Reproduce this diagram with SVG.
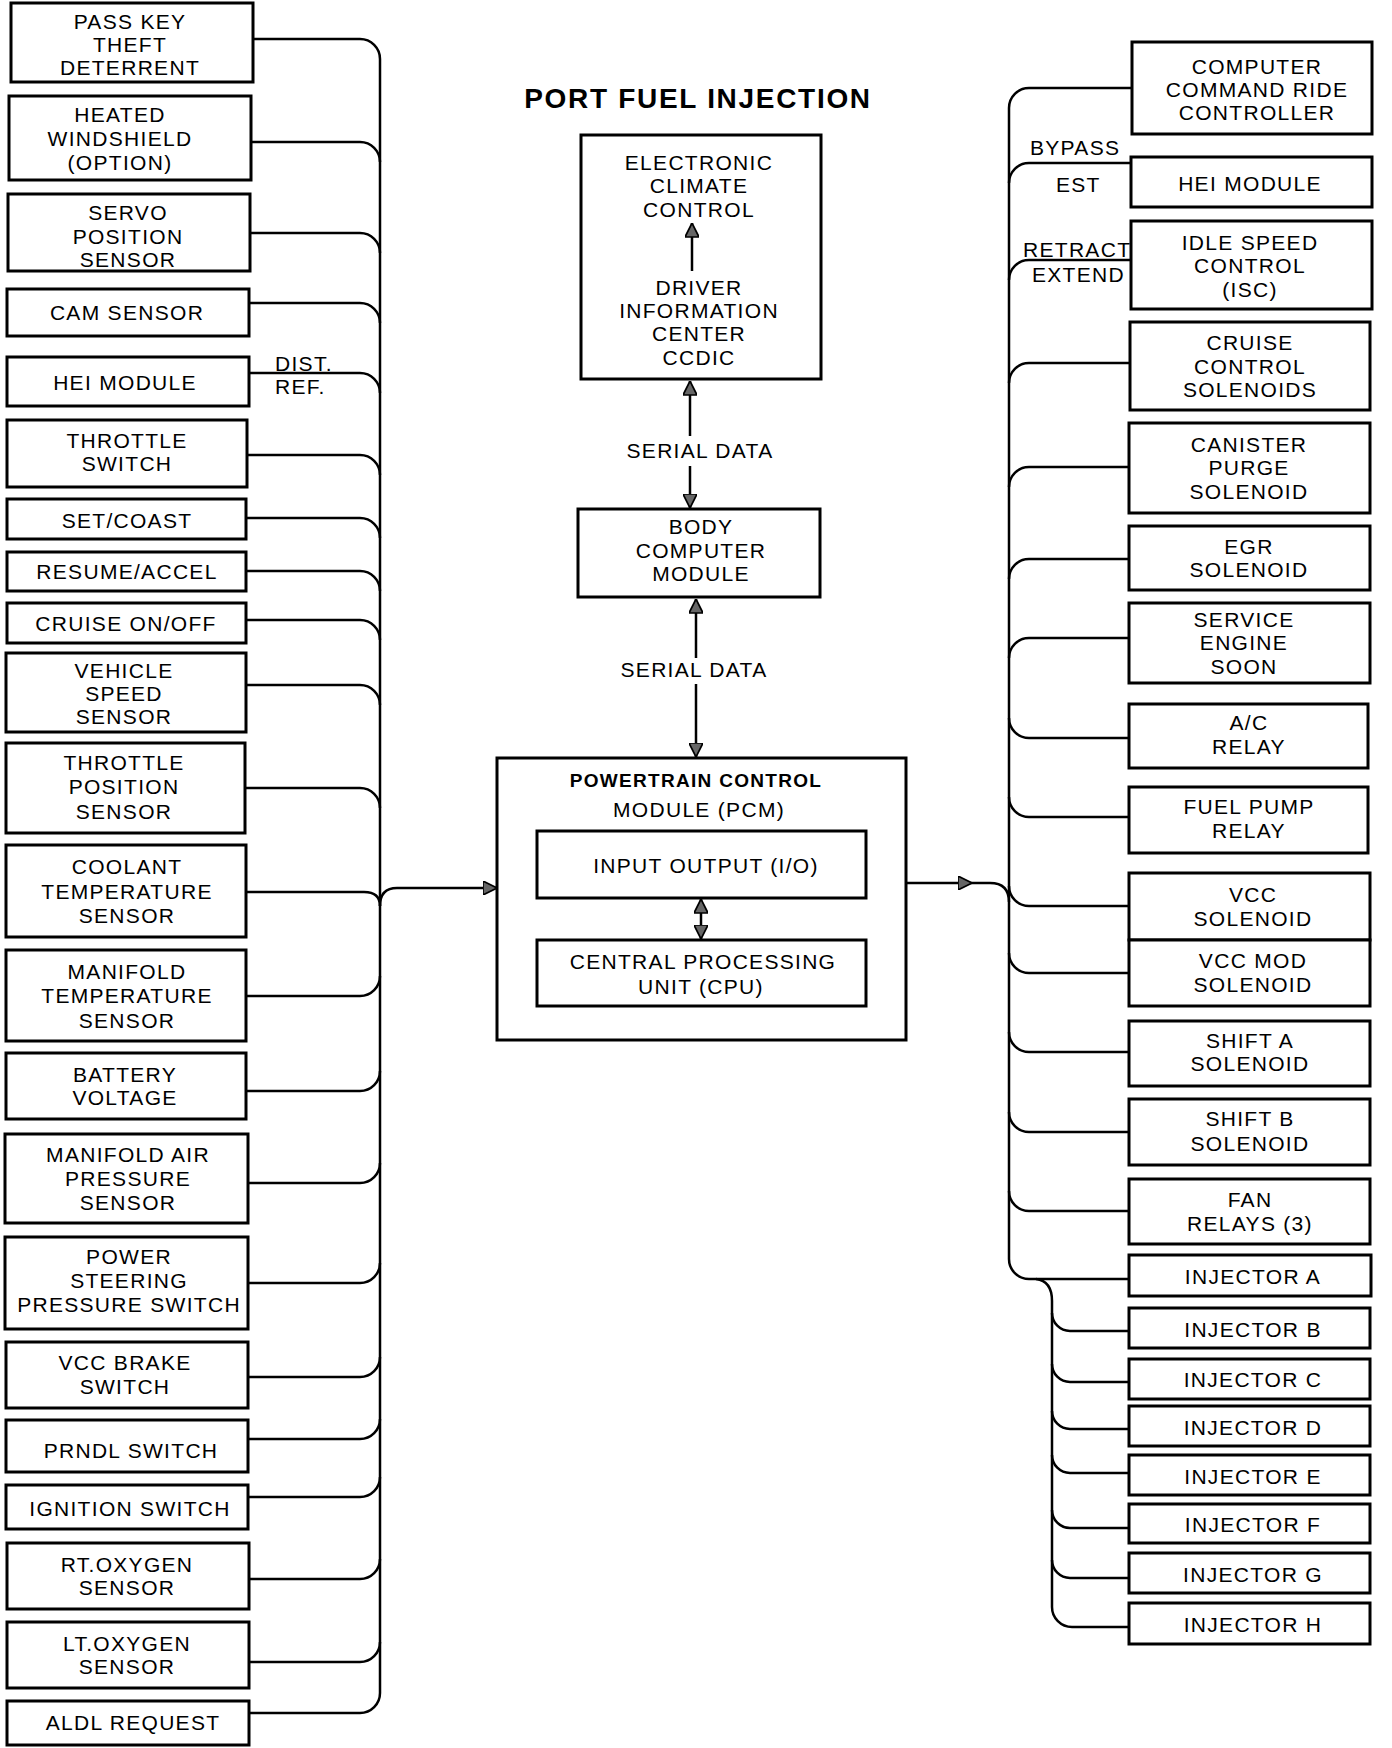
<svg xmlns="http://www.w3.org/2000/svg" width="1392" height="1748" viewBox="0 0 1392 1748">
<style>
.bg{fill:#fff}
.box{fill:#fff;stroke:#000;stroke-width:3}
.t{font-family:"Liberation Sans",Arial,Helvetica,sans-serif;font-size:21px;letter-spacing:1.3px;text-anchor:middle;fill:#000}
.lb{font-family:"Liberation Sans",Arial,Helvetica,sans-serif;font-size:21px;letter-spacing:1.3px;fill:#000}
.ttl{font-family:"Liberation Sans",Arial,Helvetica,sans-serif;font-size:28px;font-weight:bold;letter-spacing:1.7px;text-anchor:middle;fill:#000}
.bt{font-family:"Liberation Sans",Arial,Helvetica,sans-serif;font-size:19px;font-weight:bold;letter-spacing:1.3px;text-anchor:middle;fill:#000}
.w{fill:none;stroke:#000;stroke-width:2.5}
</style>
<defs>
<marker id="ah" viewBox="0 0 10 10" refX="10" refY="5" markerUnits="userSpaceOnUse" markerWidth="15" markerHeight="14" orient="auto-start-reverse">
<path d="M0,0 L10,5 L0,10 Z" fill="#666" stroke="#000" stroke-width="1.2"/>
</marker>
</defs>
<rect class="bg" x="0" y="0" width="1392" height="1748"/>

<g id="title"><text class="ttl" x="698" y="108">PORT FUEL INJECTION</text></g>

<!-- left nodes -->
<g id="passkey"><rect class="box" x="11" y="3" width="242" height="79"/><text class="t"><tspan x="130" y="29">PASS KEY</tspan><tspan x="130" y="52">THEFT</tspan><tspan x="130" y="75">DETERRENT</tspan></text></g>
<g id="heated"><rect class="box" x="9" y="96" width="242" height="84"/><text class="t"><tspan x="120" y="122">HEATED</tspan><tspan x="120" y="146">WINDSHIELD</tspan><tspan x="120" y="170">(OPTION)</tspan></text></g>
<g id="servo"><rect class="box" x="8" y="194" width="242" height="77"/><text class="t"><tspan x="128" y="220">SERVO</tspan><tspan x="128" y="244">POSITION</tspan><tspan x="128" y="267">SENSOR</tspan></text></g>
<g id="cam"><rect class="box" x="7" y="289" width="242" height="47"/><text class="t" x="127" y="320">CAM SENSOR</text></g>
<g id="hei-left"><rect class="box" x="7" y="357" width="242" height="49"/><text class="t" x="125" y="390">HEI MODULE</text></g>
<g id="throttle-switch"><rect class="box" x="7" y="420" width="240" height="67"/><text class="t"><tspan x="127" y="448">THROTTLE</tspan><tspan x="127" y="471">SWITCH</tspan></text></g>
<g id="set-coast"><rect class="box" x="7" y="499" width="239" height="40"/><text class="t" x="127" y="528">SET/COAST</text></g>
<g id="resume-accel"><rect class="box" x="7" y="552" width="239" height="39"/><text class="t" x="127" y="579">RESUME/ACCEL</text></g>
<g id="cruise-onoff"><rect class="box" x="7" y="603" width="239" height="40"/><text class="t" x="126" y="631">CRUISE ON/OFF</text></g>
<g id="vss"><rect class="box" x="6" y="653" width="240" height="79"/><text class="t"><tspan x="124" y="678">VEHICLE</tspan><tspan x="124" y="701">SPEED</tspan><tspan x="124" y="724">SENSOR</tspan></text></g>
<g id="tps"><rect class="box" x="6" y="743" width="239" height="90"/><text class="t"><tspan x="124" y="770">THROTTLE</tspan><tspan x="124" y="794">POSITION</tspan><tspan x="124" y="819">SENSOR</tspan></text></g>
<g id="coolant"><rect class="box" x="6" y="845" width="240" height="92"/><text class="t"><tspan x="127" y="874">COOLANT</tspan><tspan x="127" y="899">TEMPERATURE</tspan><tspan x="127" y="923">SENSOR</tspan></text></g>
<g id="mat"><rect class="box" x="6" y="950" width="240" height="91"/><text class="t"><tspan x="127" y="979">MANIFOLD</tspan><tspan x="127" y="1003">TEMPERATURE</tspan><tspan x="127" y="1028">SENSOR</tspan></text></g>
<g id="battery"><rect class="box" x="6" y="1053" width="240" height="66"/><text class="t"><tspan x="125" y="1082">BATTERY</tspan><tspan x="125" y="1105">VOLTAGE</tspan></text></g>
<g id="map"><rect class="box" x="5" y="1134" width="243" height="89"/><text class="t"><tspan x="128" y="1162">MANIFOLD AIR</tspan><tspan x="128" y="1186">PRESSURE</tspan><tspan x="128" y="1210">SENSOR</tspan></text></g>
<g id="ps-switch"><rect class="box" x="5" y="1237" width="243" height="92"/><text class="t"><tspan x="129" y="1264">POWER</tspan><tspan x="129" y="1288">STEERING</tspan><tspan x="129" y="1312">PRESSURE SWITCH</tspan></text></g>
<g id="vcc-brake"><rect class="box" x="6" y="1342" width="242" height="66"/><text class="t"><tspan x="125" y="1370">VCC BRAKE</tspan><tspan x="125" y="1394">SWITCH</tspan></text></g>
<g id="prndl"><rect class="box" x="6" y="1420" width="242" height="52"/><text class="t" x="131" y="1458">PRNDL SWITCH</text></g>
<g id="ignition"><rect class="box" x="6" y="1485" width="242" height="44"/><text class="t" x="130" y="1516">IGNITION SWITCH</text></g>
<g id="rt-o2"><rect class="box" x="7" y="1543" width="242" height="66"/><text class="t"><tspan x="127" y="1572">RT.OXYGEN</tspan><tspan x="127" y="1595">SENSOR</tspan></text></g>
<g id="lt-o2"><rect class="box" x="7" y="1622" width="242" height="66"/><text class="t"><tspan x="127" y="1651">LT.OXYGEN</tspan><tspan x="127" y="1674">SENSOR</tspan></text></g>
<g id="aldl"><rect class="box" x="7" y="1701" width="242" height="44"/><text class="t" x="133" y="1730">ALDL REQUEST</text></g>

<!-- center nodes -->
<g id="ecc"><rect class="box" x="581" y="135" width="240" height="244"/><text class="t"><tspan x="699" y="170">ELECTRONIC</tspan><tspan x="699" y="193">CLIMATE</tspan><tspan x="699" y="217">CONTROL</tspan><tspan x="699" y="295">DRIVER</tspan><tspan x="699" y="318">INFORMATION</tspan><tspan x="699" y="341">CENTER</tspan><tspan x="699" y="365">CCDIC</tspan></text></g>
<g id="bcm"><rect class="box" x="578" y="509" width="242" height="88"/><text class="t"><tspan x="701" y="534">BODY</tspan><tspan x="701" y="558">COMPUTER</tspan><tspan x="701" y="581">MODULE</tspan></text></g>
<g id="pcm"><rect class="box" x="497" y="758" width="409" height="282"/><text class="bt" x="696" y="787">POWERTRAIN  CONTROL</text><text class="t" x="699" y="817">MODULE (PCM)</text></g>
<g id="io"><rect class="box" x="537" y="831" width="329" height="67"/><text class="t" x="706" y="873">INPUT OUTPUT (I/O)</text></g>
<g id="cpu"><rect class="box" x="537" y="940" width="329" height="66"/><text class="t"><tspan x="703" y="969">CENTRAL PROCESSING</tspan><tspan x="701" y="994">UNIT (CPU)</tspan></text></g>

<!-- right nodes -->
<g id="ccrc"><rect class="box" x="1132" y="42" width="240" height="92"/><text class="t"><tspan x="1257" y="74">COMPUTER</tspan><tspan x="1257" y="97">COMMAND RIDE</tspan><tspan x="1257" y="120">CONTROLLER</tspan></text></g>
<g id="hei-right"><rect class="box" x="1131" y="157" width="241" height="50"/><text class="t" x="1250" y="191">HEI MODULE</text></g>
<g id="isc"><rect class="box" x="1131" y="221" width="241" height="88"/><text class="t"><tspan x="1250" y="250">IDLE SPEED</tspan><tspan x="1250" y="273">CONTROL</tspan><tspan x="1250" y="297">(ISC)</tspan></text></g>
<g id="cruise-sol"><rect class="box" x="1130" y="322" width="240" height="88"/><text class="t"><tspan x="1250" y="350">CRUISE</tspan><tspan x="1250" y="374">CONTROL</tspan><tspan x="1250" y="397">SOLENOIDS</tspan></text></g>
<g id="canister"><rect class="box" x="1129" y="423" width="241" height="90"/><text class="t"><tspan x="1249" y="452">CANISTER</tspan><tspan x="1249" y="475">PURGE</tspan><tspan x="1249" y="499">SOLENOID</tspan></text></g>
<g id="egr"><rect class="box" x="1129" y="526" width="241" height="64"/><text class="t"><tspan x="1249" y="554">EGR</tspan><tspan x="1249" y="577">SOLENOID</tspan></text></g>
<g id="ses"><rect class="box" x="1129" y="603" width="241" height="80"/><text class="t"><tspan x="1244" y="627">SERVICE</tspan><tspan x="1244" y="650">ENGINE</tspan><tspan x="1244" y="674">SOON</tspan></text></g>
<g id="ac-relay"><rect class="box" x="1129" y="704" width="239" height="64"/><text class="t"><tspan x="1249" y="730">A/C</tspan><tspan x="1249" y="754">RELAY</tspan></text></g>
<g id="fuel-pump"><rect class="box" x="1129" y="787" width="239" height="66"/><text class="t"><tspan x="1249" y="814">FUEL PUMP</tspan><tspan x="1249" y="838">RELAY</tspan></text></g>
<g id="vcc"><rect class="box" x="1129" y="873" width="241" height="67"/><text class="t"><tspan x="1253" y="902">VCC</tspan><tspan x="1253" y="926">SOLENOID</tspan></text></g>
<g id="vcc-mod"><rect class="box" x="1129" y="940" width="241" height="66"/><text class="t"><tspan x="1253" y="968">VCC MOD</tspan><tspan x="1253" y="992">SOLENOID</tspan></text></g>
<g id="shift-a"><rect class="box" x="1129" y="1021" width="241" height="65"/><text class="t"><tspan x="1250" y="1048">SHIFT A</tspan><tspan x="1250" y="1071">SOLENOID</tspan></text></g>
<g id="shift-b"><rect class="box" x="1129" y="1099" width="241" height="66"/><text class="t"><tspan x="1250" y="1126">SHIFT B</tspan><tspan x="1250" y="1151">SOLENOID</tspan></text></g>
<g id="fan"><rect class="box" x="1129" y="1179" width="241" height="65"/><text class="t"><tspan x="1250" y="1207">FAN</tspan><tspan x="1250" y="1231">RELAYS (3)</tspan></text></g>
<g id="inj-a"><rect class="box" x="1129" y="1255" width="242" height="41"/><text class="t" x="1253" y="1284">INJECTOR A</text></g>
<g id="inj-b"><rect class="box" x="1129" y="1308" width="241" height="40"/><text class="t" x="1253" y="1337">INJECTOR B</text></g>
<g id="inj-c"><rect class="box" x="1129" y="1359" width="241" height="40"/><text class="t" x="1253" y="1387">INJECTOR C</text></g>
<g id="inj-d"><rect class="box" x="1129" y="1406" width="241" height="40"/><text class="t" x="1253" y="1435">INJECTOR D</text></g>
<g id="inj-e"><rect class="box" x="1129" y="1455" width="241" height="40"/><text class="t" x="1253" y="1484">INJECTOR E</text></g>
<g id="inj-f"><rect class="box" x="1129" y="1504" width="241" height="39"/><text class="t" x="1253" y="1532">INJECTOR F</text></g>
<g id="inj-g"><rect class="box" x="1129" y="1553" width="241" height="40"/><text class="t" x="1253" y="1582">INJECTOR G</text></g>
<g id="inj-h"><rect class="box" x="1129" y="1603" width="241" height="41"/><text class="t" x="1253" y="1632">INJECTOR H</text></g>

<g id="connectors">
<!-- left bus -->
<path class="w" d="M380 59 V1693"/>
<path class="w" d="M253 39 H360 A20 20 0 0 1 380 59"/>
<path class="w" d="M251 142 H360 A20 20 0 0 1 380 162"/>
<path class="w" d="M250 233 H360 A20 20 0 0 1 380 253"/>
<path class="w" d="M249 303 H360 A20 20 0 0 1 380 323"/>
<path class="w" d="M249 373 H360 A20 20 0 0 1 380 393"/>
<path class="w" d="M247 455 H360 A20 20 0 0 1 380 475"/>
<path class="w" d="M246 518 H360 A20 20 0 0 1 380 538"/>
<path class="w" d="M246 571 H360 A20 20 0 0 1 380 591"/>
<path class="w" d="M246 620 H360 A20 20 0 0 1 380 640"/>
<path class="w" d="M246 685 H360 A20 20 0 0 1 380 705"/>
<path class="w" d="M245 788 H360 A20 20 0 0 1 380 808"/>
<path class="w" d="M246 892 H364 Q380 892 380 906"/>
<path class="w" d="M380 906 Q380 888 397 888 H497" marker-end="url(#ah)"/>
<path class="w" d="M246 996 H360 A20 20 0 0 0 380 976"/>
<path class="w" d="M246 1091 H360 A20 20 0 0 0 380 1071"/>
<path class="w" d="M248 1183 H360 A20 20 0 0 0 380 1163"/>
<path class="w" d="M248 1283 H360 A20 20 0 0 0 380 1263"/>
<path class="w" d="M248 1377 H360 A20 20 0 0 0 380 1357"/>
<path class="w" d="M248 1439 H360 A20 20 0 0 0 380 1419"/>
<path class="w" d="M248 1497 H360 A20 20 0 0 0 380 1477"/>
<path class="w" d="M249 1579 H360 A20 20 0 0 0 380 1559"/>
<path class="w" d="M249 1662 H360 A20 20 0 0 0 380 1642"/>
<path class="w" d="M249 1713 H360 A20 20 0 0 0 380 1693"/>

<!-- center -->
<path class="w" d="M692 271 V223" marker-end="url(#ah)"/>
<path class="w" d="M690 436 V381" marker-end="url(#ah)"/>
<path class="w" d="M690 466 V508" marker-end="url(#ah)"/>
<path class="w" d="M696 658 V599" marker-end="url(#ah)"/>
<path class="w" d="M696 684 V757" marker-end="url(#ah)"/>
<path class="w" d="M701 899 V939" marker-start="url(#ah)" marker-end="url(#ah)"/>
<path class="w" d="M906 883 H972" marker-end="url(#ah)"/>
<path class="w" d="M972 883 H990 Q1009 883 1009 902"/>

<!-- right bus -->
<path class="w" d="M1009 108 V1259"/>
<path class="w" d="M1132 88 H1029 A20 20 0 0 0 1009 108"/>
<path class="w" d="M1131 163 H1029 A20 20 0 0 0 1009 183"/>
<path class="w" d="M1131 260 H1029 A20 20 0 0 0 1009 280"/>
<path class="w" d="M1130 363 H1029 A20 20 0 0 0 1009 383"/>
<path class="w" d="M1129 467 H1029 A20 20 0 0 0 1009 487"/>
<path class="w" d="M1129 559 H1029 A20 20 0 0 0 1009 579"/>
<path class="w" d="M1129 638 H1029 A20 20 0 0 0 1009 658"/>
<path class="w" d="M1129 738 H1029 A20 20 0 0 1 1009 718"/>
<path class="w" d="M1129 817 H1029 A20 20 0 0 1 1009 797"/>
<path class="w" d="M1129 906 H1029 A20 20 0 0 1 1009 886"/>
<path class="w" d="M1129 973 H1029 A20 20 0 0 1 1009 953"/>
<path class="w" d="M1129 1052 H1029 A20 20 0 0 1 1009 1032"/>
<path class="w" d="M1129 1132 H1029 A20 20 0 0 1 1009 1112"/>
<path class="w" d="M1129 1211 H1029 A20 20 0 0 1 1009 1191"/>
<path class="w" d="M1129 1279 H1029 A20 20 0 0 1 1009 1259"/>
<!-- injector bus -->
<path class="w" d="M1036 1279 Q1052 1281 1052 1301 V1607 A20 20 0 0 0 1072 1627 H1129"/>
<path class="w" d="M1129 1331 H1070 A18 18 0 0 1 1052 1313"/>
<path class="w" d="M1129 1382 H1070 A18 18 0 0 1 1052 1364"/>
<path class="w" d="M1129 1429 H1070 A18 18 0 0 1 1052 1411"/>
<path class="w" d="M1129 1473 H1070 A18 18 0 0 1 1052 1455"/>
<path class="w" d="M1129 1528 H1070 A18 18 0 0 1 1052 1510"/>
<path class="w" d="M1129 1578 H1070 A18 18 0 0 1 1052 1560"/>

<text class="lb" x="275" y="371">DIST.</text>
<text class="lb" x="275" y="394">REF.</text>
<text class="lb" x="1030" y="155">BYPASS</text>
<text class="lb" x="1056" y="192">EST</text>
<text class="lb" x="1023" y="257">RETRACT</text>
<text class="lb" x="1032" y="282">EXTEND</text>
<text class="t" x="700" y="458">SERIAL DATA</text>
<text class="t" x="694" y="677">SERIAL DATA</text>
</g>
</svg>
